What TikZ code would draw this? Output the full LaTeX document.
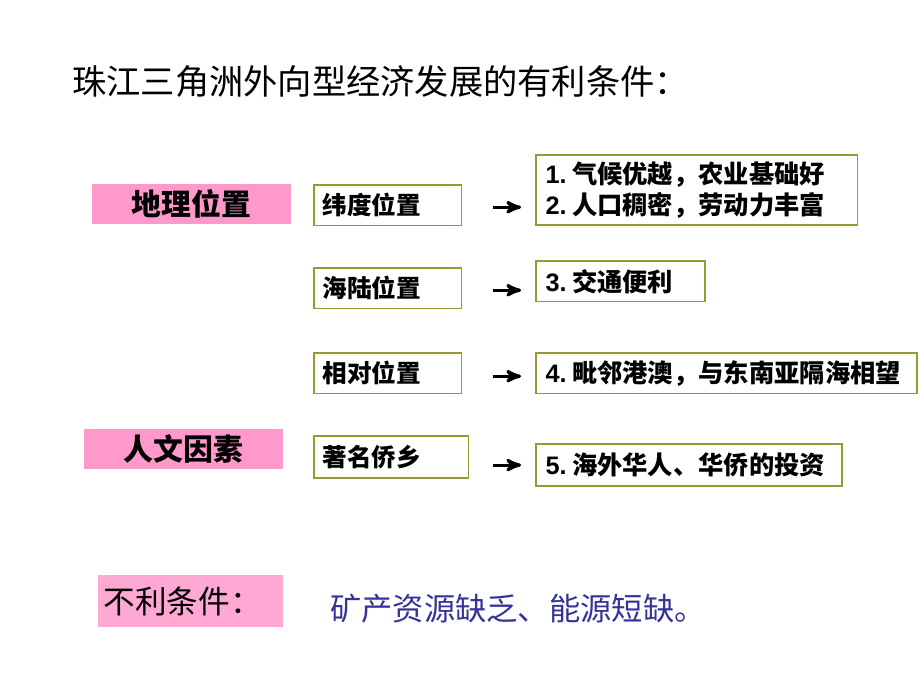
\documentclass[tikz,border=0pt]{standalone}
\usepackage{fontspec}
\setmainfont{Noto Sans CJK SC}
\newfontfamily\latin{Liberation Sans}
\usepackage{tikz}
\usetikzlibrary{calc,arrows,positioning}

\definecolor{boxpink}{RGB}{255,153,204}
\definecolor{olive}{RGB}{153,153,51}
\definecolor{plainblue}{RGB}{51,51,153}
\newcommand{\itemno}[1]{{\latin\bfseries #1.}\hspace{3pt}}

\begin{document}
\begin{tikzpicture}[x=0.02cm,y=-0.02cm,
	factor/.style={rectangle,fill=boxpink,inner sep=0pt,minimum height=22.8pt,font=\fontsize{17}{17}\selectfont\bfseries},
	item/.style={rectangle,draw=olive,line width=1pt,anchor=north west,inner sep=0pt,outer sep=0pt,align=left,font=\fontsize{14}{17.6}\selectfont\bfseries},
	result/.style={item,inner xsep=5.5pt,font=\fontsize{14.4}{17.6}\selectfont\bfseries},
	paths/.style={->, line width=1.8pt, >=stealth', shorten <=17.6pt, shorten >=8.5pt}
	]
\useasboundingbox (0,0) rectangle (920,690);

\node [anchor=west, inner sep=0pt, font=\fontsize{19.5}{19.5}\selectfont] (title) at (72,82) {珠江三角洲外向型经济发展的有利条件：};

\node [factor, minimum width=113pt] (geo) at (191.5,204) {地理位置};
\node [factor, minimum width=113pt] (hum) at (183.5,449) {人文因素};

\node [item, minimum width=83pt, minimum height=23pt, text width=74pt, inner xsep=5pt] (m1) at (314,185) {纬度位置};
\node [item, minimum width=83pt, minimum height=23pt, text width=74pt, inner xsep=5pt] (m2) at (314,268) {海陆位置};
\node [item, minimum width=83pt, minimum height=23pt, text width=74pt, inner xsep=5pt] (m3) at (314,353) {相对位置};
\node [item, minimum width=87pt, minimum height=24pt, text width=78pt, inner xsep=5pt] (m4) at (314,436) {著名侨乡};

\node [result, minimum width=183pt, minimum height=40pt, text width=172pt] (r1) at (536,155) {\itemno{1}气候优越，农业基础好\\\itemno{2}人口稠密，劳动力丰富};
\node [result, minimum width=96pt, minimum height=23pt, text width=85pt] (r2) at (536,261) {\itemno{3}交通便利};
\node [result, minimum width=217pt, minimum height=23pt, text width=206pt] (r3) at (536,353) {\itemno{4}毗邻港澳，与东南亚隔海相望};
\node [result, minimum width=174pt, minimum height=24pt, text width=163pt] (r4) at (536,444) {\itemno{5}海外华人、华侨的投资};

\draw [paths] ($(m1.east)+(0,2)$) -- ($(m1.east -| r1.west)+(0,2)$);
\draw [paths] ($(m2.east)+(0,2)$) -- ($(m2.east -| r2.west)+(0,2)$);
\draw [paths] ($(m3.east)+(0,3)$) -- ($(m3.east -| r3.west)+(0,3)$);
\draw [paths, shorten <=13.6pt] (m4.east |- r4.west) -- (r4.west);

\node [rectangle, fill=boxpink!85!white, minimum width=105pt, minimum height=29.6pt, inner sep=0pt, text width=99pt, align=left, font=\fontsize{18}{18}\selectfont] (bad) at (190.5,601) {不利条件：};
\node [anchor=west, inner sep=0pt, text=plainblue, font=\fontsize{17.8}{17.8}\selectfont] (lack) at (330,609) {矿产资源缺乏、能源短缺。};
\end{tikzpicture}
\end{document}
